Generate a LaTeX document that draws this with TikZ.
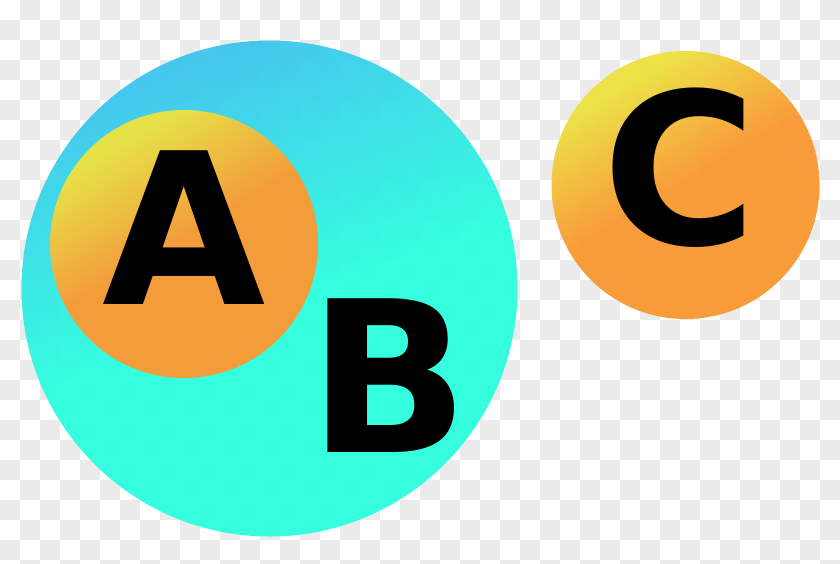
\documentclass[tikz,border=0pt]{standalone}
\usepackage{fontspec}
\setmainfont{DejaVu Sans}
\definecolor{ylw}{HTML}{EDE243}
\definecolor{org}{HTML}{F99A35}
\definecolor{bl}{HTML}{40C6EE}
\definecolor{tq}{HTML}{30FFDF}
\definecolor{chk}{HTML}{EBEBEB}
\pgfdeclareverticalshading{orsh}{100bp}{color(0bp)=(org); color(51bp)=(org); color(72bp)=(ylw); color(100bp)=(ylw)}
\pgfdeclareverticalshading{cysh}{100bp}{color(0bp)=(tq); color(48bp)=(tq); color(74bp)=(bl); color(100bp)=(bl)}
\tikzset{
  ball/.style={circle, inner sep=0pt, minimum size=#1, shade, shading=orsh, shading angle=31, opacity=0.97},
  bigball/.style={circle, inner sep=0pt, minimum size=#1, shade, shading=cysh, shading angle=20, opacity=0.97},
  letter/.style={anchor=base, inner sep=0pt, font=\fontsize{211}{211}\selectfont\bfseries, text=black}
}
\begin{document}
\begin{tikzpicture}[x=1pt,y=-1pt]
\useasboundingbox (0,0) rectangle (840,563);
\fill[white] (0,0) rectangle (840,563);
\foreach \a in {0,40,...,840}{
  \foreach \b in {0,40,...,563}{
    \fill[chk] (\a+20,\b) rectangle ++(20,20);
    \fill[chk] (\a,\b+20) rectangle ++(20,20);
  }
}
\node[bigball=496pt] (cB) at (269.5,288.5) {};
\node[ball=268pt] (cA) at (184,244) {};
\node[ball=268pt] (cC) at (685.5,185) {};
\node[letter] (tA) at (184,304) {A};
\node[letter] (tB) at (389,452) {B};
\node[letter] (tC) at (680,244) {C};
\end{tikzpicture}
\end{document}
